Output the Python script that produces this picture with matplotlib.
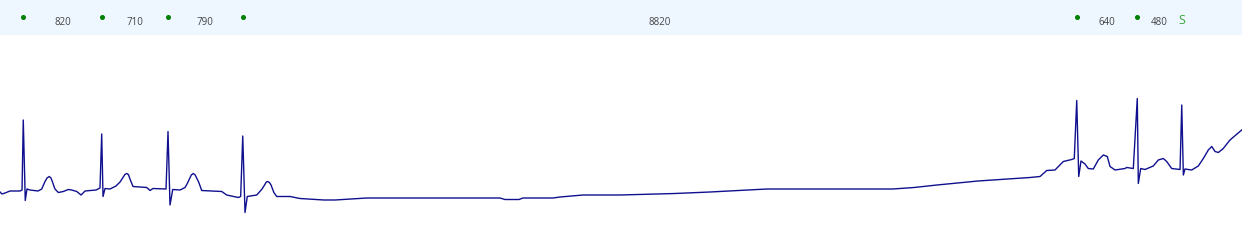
import matplotlib
matplotlib.use("Agg")
import matplotlib.pyplot as plt

# ECG trace vertices (time in s, amplitude in mV)
trace_t = [0.000, 0.021, 0.053, 0.106, 0.211, 0.233, 0.246, 0.267, 0.285, 0.317,
           0.402, 0.441, 0.460, 0.476, 0.497, 0.521, 0.539, 0.553, 0.581, 0.617,
           0.669, 0.722, 0.758, 0.811, 0.857, 0.899, 1.015, 1.057,
           1.075, 1.089, 1.110, 1.163, 1.226, 1.269, 1.296, 1.320, 1.339, 1.357,
           1.378, 1.406, 1.551, 1.586, 1.617, 1.755,
           1.776, 1.797, 1.826, 1.903, 1.956, 1.980, 2.022, 2.043, 2.063, 2.100,
           2.132, 2.344, 2.396, 2.519, 2.544,
           2.566, 2.590, 2.614, 2.714, 2.770, 2.800, 2.815, 2.830, 2.848, 2.865,
           2.895, 2.925, 3.066, 3.171,
           3.425, 3.541, 3.879, 4.493, 4.831, 5.285, 5.338, 5.486, 5.529, 5.846,
           5.920, 6.163, 6.554, 7.135, 7.505, 8.108, 8.446, 8.710, 9.440, 9.662,
           9.905, 10.338, 10.571, 10.888, 10.994, 11.065, 11.152, 11.240, 11.329, 11.356,
           11.382, 11.403, 11.427, 11.469, 11.504, 11.557, 11.610, 11.663, 11.705, 11.734,
           11.787, 11.892, 11.910, 11.980,
           12.022, 12.033, 12.058, 12.104, 12.191, 12.244, 12.297, 12.333, 12.386, 12.474,
           12.492, 12.509, 12.526, 12.597, 12.667, 12.720, 12.773, 12.809, 12.844, 12.879,
           12.931, 13.002, 13.126]
trace_mv = [0.16, 0.12, 0.14, 0.18, 0.18, 0.20, 1.60, -0.01, 0.22, 0.20,
            0.18, 0.22, 0.30, 0.37, 0.44, 0.47, 0.44, 0.37, 0.22, 0.15,
            0.17, 0.21, 0.20, 0.17, 0.10, 0.18, 0.20, 0.24,
            1.32, 0.07, 0.23, 0.22, 0.28, 0.36, 0.44, 0.51, 0.53, 0.51,
            0.40, 0.27, 0.25, 0.19, 0.23, 0.22,
            1.37, -0.10, 0.21, 0.20, 0.25, 0.33, 0.50, 0.53, 0.50, 0.36,
            0.19, 0.17, 0.10, 0.05, 0.07,
            1.28, -0.25, 0.07, 0.10, 0.22, 0.31, 0.36, 0.37, 0.35, 0.30,
            0.15, 0.07, 0.07, 0.03,
            0.00, 0.00, 0.04, 0.04, 0.04, 0.04, 0.01, 0.01, 0.04, 0.04,
            0.06, 0.10, 0.10, 0.13, 0.16, 0.22, 0.22, 0.22, 0.22, 0.25,
            0.30, 0.38, 0.41, 0.45, 0.47, 0.59, 0.60, 0.77, 0.81, 0.83,
            1.99, 0.47, 0.78, 0.72, 0.63, 0.62, 0.80, 0.90, 0.87, 0.67,
            0.60, 0.63, 0.65, 0.63,
            2.03, 0.33, 0.63, 0.61, 0.68, 0.80, 0.83, 0.77, 0.63, 0.61,
            1.90, 0.50, 0.62, 0.60, 0.68, 0.83, 1.00, 1.07, 0.97, 0.95,
            1.03, 1.20, 1.40]

# detected beats (s); the last one is flagged as S
beat_t = [0.246, 1.075, 1.776, 2.566, 11.382, 12.022, 12.492]
beat_type = ['N', 'N', 'N', 'N', 'N', 'N', 'S']
rr_labels = ['820', '710', '790', '8820', '640', '480']

t_end = 13.129

fig = plt.figure(figsize=(12.42, 2.4), dpi=100)

# top annotation band
band = fig.add_axes([0, 205 / 240, 1, 35 / 240])
band.set_xlim(0, t_end)
band.set_ylim(0, 1)
band.axis('off')
band.add_patch(plt.Rectangle((0, 0), 1, 1, transform=band.transAxes,
                             color='#eef6ff', zorder=0))
for t, kind in zip(beat_t, beat_type):
    if kind == 'S':
        band.text(t, 0.40, 'S', color='#3aa63a', fontsize=9, ha='center',
                  va='center', family='Open Sans')
    else:
        band.plot(t, 0.51, 'o', color='#008000', markersize=2.6, zorder=3)
for i, lab in enumerate(rr_labels):
    mid = (beat_t[i] + beat_t[i + 1]) / 2
    band.text(mid, 0.37, lab, color='#444444', fontsize=7, ha='center',
              va='center', family='Open Sans')

# ECG trace
ax = fig.add_axes([0, 0, 1, 205 / 240])
ax.plot(trace_t, trace_mv, color='#10108f', lw=1.0)
ax.set_xlim(0, t_end)
ax.set_ylim(-0.8, 3.3)
ax.axis('off')

fig.savefig('out.png', dpi=100)
